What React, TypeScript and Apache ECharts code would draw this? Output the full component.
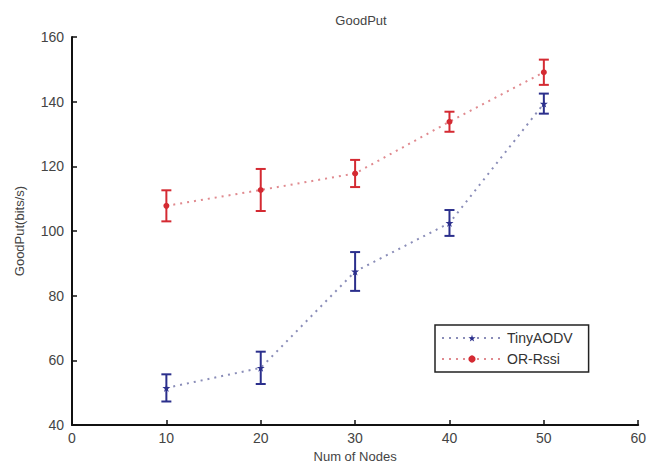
import React, { useEffect, useRef } from "react";
import * as echarts from "echarts";

const nodes = [10, 20, 30, 40, 50];
const tinyAodv = [51.5, 57.7, 87.5, 102.5, 139.4];
const tinyAodvErr = [4.2, 5.0, 6.0, 4.0, 3.1];
const orRssi = [107.8, 112.7, 117.8, 133.8, 149.1];
const orRssiErr = [4.8, 6.5, 4.2, 3.1, 3.9];
const xTicks = { min: 0, max: 60, interval: 10 };
const yTicks = { min: 40, max: 160, interval: 20 };

const BLUE = "#2b2f8c";
const RED = "#d42a32";
const STAR = "path://M50,0 L61,35 L98,35 L68,57 L79,91 L50,70 L21,91 L32,57 L2,35 L39,35 Z";

function errorSeries(name: string, vals: number[], errs: number[], color: string) {
  return {
    type: "custom",
    name,
    data: nodes.map((x, i) => [x, vals[i] - errs[i], vals[i] + errs[i]]),
    z: 3,
    renderItem: (params: any, api: any) => {
      const x = api.value(0);
      const lo = api.coord([x, api.value(1)]);
      const hi = api.coord([x, api.value(2)]);
      const w = 5;
      const style = { stroke: color, lineWidth: 2 };
      return {
        type: "group",
        children: [
          { type: "line", shape: { x1: lo[0], y1: lo[1], x2: hi[0], y2: hi[1] }, style },
          { type: "line", shape: { x1: lo[0] - w, y1: lo[1], x2: lo[0] + w, y2: lo[1] }, style },
          { type: "line", shape: { x1: hi[0] - w, y1: hi[1], x2: hi[0] + w, y2: hi[1] }, style },
        ],
      };
    },
    encode: { x: 0, y: [1, 2] },
  };
}

export default function App() {
  const ref = useRef<HTMLDivElement>(null);
  useEffect(() => {
    if (!ref.current) return;
    const chart = echarts.init(ref.current, undefined, { renderer: "svg" });
    const textStyle = { fontFamily: "Liberation Sans, Arial, sans-serif", color: "#444" };
    chart.setOption({
      animation: false,
      backgroundColor: "#fff",
      textStyle,
      title: {
        text: "GoodPut",
        left: 356,
        top: 9,
        textAlign: "center",
        textStyle: { fontSize: 13, fontWeight: "normal", color: "#444", fontFamily: textStyle.fontFamily },
      },
      grid: { left: 72, right: 9, top: 37, bottom: 41, containLabel: false },
      xAxis: {
        type: "value",
        ...xTicks,
        name: "Num of Nodes",
        nameLocation: "middle",
        nameGap: 24,
        nameTextStyle: { fontSize: 13, color: "#444" },
        axisLine: { show: true, lineStyle: { color: "#111", width: 2 } },
        axisTick: { show: true, inside: true, length: 5, lineStyle: { color: "#111", width: 1.5 } },
        axisLabel: { fontSize: 14, color: "#444", margin: 6 },
        splitLine: { show: false },
      },
      yAxis: {
        type: "value",
        ...yTicks,
        name: "GoodPut(bits/s)",
        nameLocation: "middle",
        nameGap: 46,
        nameTextStyle: { fontSize: 13, color: "#444" },
        axisLine: { show: true, lineStyle: { color: "#111", width: 2 } },
        axisTick: { show: true, inside: true, length: 5, lineStyle: { color: "#111", width: 1.5 } },
        axisLabel: { fontSize: 14, color: "#444", margin: 8 },
        splitLine: { show: false },
      },
      legend: {
        data: ["TinyAODV", "OR-Rssi"],
        orient: "vertical",
        left: 435,
        top: 325,
        itemWidth: 60,
        itemHeight: 9,
        itemGap: 7,
        padding: [6, 16, 6, 6],
        borderColor: "#222",
        borderWidth: 1.5,
        backgroundColor: "#fff",
        textStyle: { fontSize: 14, color: "#333" },
      },
      series: [
        errorSeries("err1", tinyAodv, tinyAodvErr, BLUE),
        errorSeries("err2", orRssi, orRssiErr, RED),
        {
          type: "line",
          name: "TinyAODV",
          data: nodes.map((x, i) => [x, tinyAodv[i]]),
          symbol: STAR,
          symbolSize: 8,
          itemStyle: { color: BLUE },
          lineStyle: { type: [2, 5], width: 2, color: "#8a8db8" },
          z: 4,
        },
        {
          type: "line",
          name: "OR-Rssi",
          data: nodes.map((x, i) => [x, orRssi[i]]),
          symbol: "circle",
          symbolSize: 6,
          itemStyle: { color: RED },
          lineStyle: { type: [2, 5], width: 2, color: "#e08a8f" },
          z: 4,
        },
      ],
    });
    return () => chart.dispose();
  }, []);
  return <div ref={ref} style={{ width: 649, height: 468, position: "absolute", left: 0, top: 0 }} />;
}
